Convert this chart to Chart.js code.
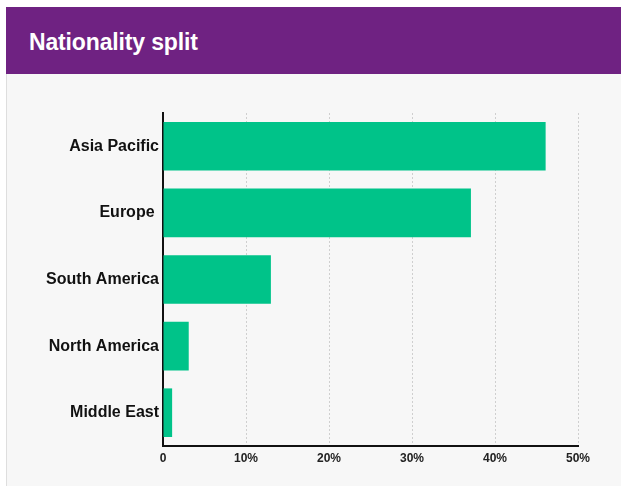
<!DOCTYPE html>
<html>
<head>
<meta charset="utf-8">
<script src="https://cdn.jsdelivr.net/npm/chart.js@4"></script>
<style>
  html, body { margin: 0; padding: 0; background: #fff; }
  body { width: 621px; height: 486px; position: relative; overflow: hidden; font-family: "Liberation Sans", Arial, sans-serif; }
  .header {
    position: absolute; left: 6px; top: 7px; right: 0; height: 67px;
    background: #6f2282;
  }
  .header h1 {
    position: absolute; left: 23px; top: 23.5px; margin: 0;
    font-size: 23px; line-height: 1; font-weight: bold; letter-spacing: -0.15px;
    color: #fff;
  }
  .panel {
    position: absolute; left: 6px; top: 74px; right: 0; bottom: 0;
    background: #f7f7f7; border-left: 1px solid #dedede;
  }
  #chartWrap { position: absolute; left: 6px; top: 75px; width: 615px; height: 411px; }
</style>
</head>
<body>
<div class="header"><h1>Nationality split</h1></div>
<div class="panel"></div>
<div id="chartWrap"><canvas id="splitChart"></canvas></div>

<script>
// ==================== DATA ====================
const regions = ['Asia Pacific', 'Europe ', 'South America', 'North America', 'Middle East'];
const shares = [46.1, 37.1, 13.0, 3.1, 1.1];
const tickValues = [0, 10, 20, 30, 40, 50];

const BAR_GREEN = '#00c389';

// ==================== CHART ====================
function initChart() {
    new Chart(document.getElementById('splitChart'), {
        type: 'bar',
        data: {
            labels: regions,
            datasets: [{
                data: shares,
                backgroundColor: BAR_GREEN,
                borderWidth: 0,
                barPercentage: 0.73,
                categoryPercentage: 1
            }]
        },
        options: {
            indexAxis: 'y',
            responsive: true,
            maintainAspectRatio: false,
            animation: false,
            layout: { padding: { top: 38, right: 43, bottom: 0, left: 0 } },
            plugins: { legend: { display: false }, tooltip: { enabled: false } },
            scales: {
                x: {
                    min: 0,
                    max: 50,
                    afterFit: (scale) => { scale.height = 40; },
                    afterBuildTicks: (scale) => { scale.ticks = tickValues.map(v => ({ value: v })); },
                    grid: {
                        // no grid line at 0, the y axis sits there
                        color: (ctx) => ctx.tick && ctx.tick.value === 0 ? 'rgba(0,0,0,0)' : '#cfcfcf',
                        lineWidth: 1,
                        drawTicks: false
                    },
                    border: { display: true, color: '#111', width: 2, dash: [2, 2] },
                    ticks: {
                        padding: 5,
                        color: '#222',
                        font: { family: '"Liberation Sans", Arial, sans-serif', size: 12, weight: 'bold' },
                        callback: (v) => v === 0 ? '0' : v + '%'
                    }
                },
                y: {
                    afterFit: (scale) => { scale.width = 157; },
                    grid: { display: false, drawTicks: false },
                    border: { display: true, color: '#111', width: 2 },
                    ticks: {
                        padding: 4,
                        color: '#111',
                        font: { family: '"Liberation Sans", Arial, sans-serif', size: 16, weight: 'bold' }
                    }
                }
            }
        }
    });
}

initChart();
</script>
</body>
</html>
